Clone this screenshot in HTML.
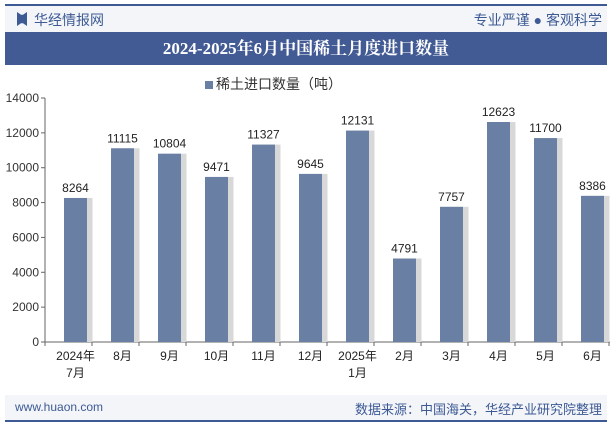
<!DOCTYPE html>
<html><head><meta charset="utf-8"><style>
body{margin:0;width:612px;height:425px;background:#fff;font-family:"Liberation Sans","Noto Sans CJK SC",sans-serif;overflow:hidden;position:relative}
.a{position:absolute}
</style></head><body>
<div class="a" style="left:5px;top:4px;width:602px;height:2px;background:#3d5a94"></div>
<div class="a" style="left:5px;top:6px;width:602px;height:26px;background:#f3f5f9"></div>
<div class="a" style="left:17px;top:12px;width:10px;height:14px;background:#3d5a94;clip-path:polygon(0 0,40% 20%,60% 20%,100% 0,100% 100%,60% 80%,40% 80%,0 100%)"></div>
<div class="a" style="left:34px;top:10px;font-size:14px;color:#3d5a94">华经情报网</div>
<div class="a" style="right:10px;top:10px;font-size:14px;color:#3d5a94">专业严谨 ● 客观科学</div>
<div class="a" style="left:5px;top:32px;width:602px;height:33px;background:#435b94;color:#fff;font-size:17px;font-weight:bold;line-height:33px;text-align:center;font-family:'Liberation Serif','Noto Serif CJK SC',serif">2024-2025年6月中国稀土月度进口数量</div>
<div class="a" style="left:205px;top:74px;font-size:14px;color:#333"><span style="display:inline-block;width:8px;height:8px;background:#6a7fa4;margin-right:3px"></span>稀土进口数量（吨）</div>
<div class="a" style="left:5px;top:395px;width:602px;height:25px;background:#f3f5f9"></div>
<div class="a" style="left:15px;top:400px;font-size:12px;color:#3d5a94">www.huaon.com</div>
<div class="a" style="right:10px;top:399px;font-size:13px;color:#3d5a94">数据来源：中国海关，华经产业研究院整理</div>
<div class="a" style="left:5px;top:420px;width:602px;height:2px;background:#3d5a94"></div>
<svg class="a" style="left:0;top:0" width="612" height="425" id="c"></svg>
<script>
const categories=["2024年\n7月","8月","9月","10月","11月","12月","2025年\n1月","2月","3月","4月","5月","6月"];
const values=[8264,11115,10804,9471,11327,9645,12131,4791,7757,12623,11700,8386];
const ticks=[0,2000,4000,6000,8000,10000,12000,14000];
const svg=document.getElementById('c');const NS='http://www.w3.org/2000/svg';
const x0=45,x1=609,y0=342,y1=98,max=14000;
const bw=(x1-x0)/categories.length;
const Y=v=>y0-(v/max)*(y0-y1);
const X=i=>x0+bw*i+bw/2+7;
function el(t,a,txt){const e=document.createElementNS(NS,t);for(const k in a)e.setAttribute(k,a[k]);if(txt!=null)e.textContent=txt;svg.appendChild(e);return e;}
let ax=el('line',{x1:x0,y1:y0,x2:x1+1,y2:y0,stroke:'#666'});


let ay=el('line',{x1:x0,y1:y1,x2:x0,y2:y0,stroke:'#666'});


ticks.forEach(t=>{
 el('line',{x1:x0-4,y1:Y(t),x2:x0,y2:Y(t),stroke:'#666'});
 const tx=el('text',{x:x0-6,y:Y(t)+4,'text-anchor':'end','font-size':12,fill:'#333'},t);
 
 
});
for(let i=0;i<=categories.length;i++)el('line',{x1:x0+bw*i,y1:y0,x2:x0+bw*i,y2:y0+4,stroke:'#666'});
values.forEach((v,i)=>{
 const cx=X(i);
 el('rect',{x:cx-11+3,y:Y(v),width:25,height:y0-Y(v),fill:'#d8d8d8'});
 const b=el('rect',{x:cx-11.5,y:Y(v),width:23,height:y0-Y(v),fill:'#6a7fa4'});
 
 
 const l=el('text',{x:cx,y:Y(v)-6,'text-anchor':'middle','font-size':12,fill:'#222'},v);
 
 
 categories[i].split('\n').forEach((s,j)=>{
  const c=el('text',{x:cx,y:y0+18+j*17,'text-anchor':'middle','font-size':12,fill:'#222'},s);
  
  
 });
});
</script>
</body></html>
